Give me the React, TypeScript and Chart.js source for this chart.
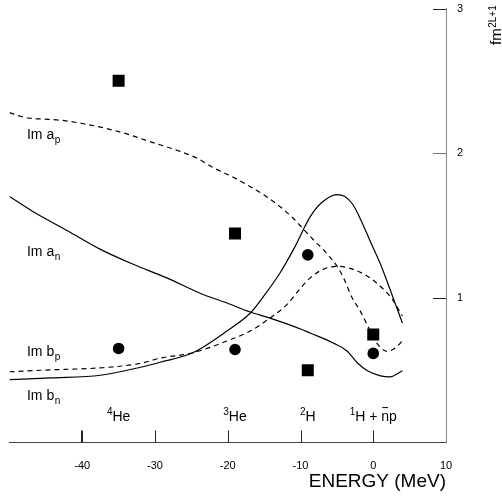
import React, { useEffect, useRef } from 'react';
import { Chart, registerables } from 'chart.js';

Chart.register(...registerables);

const FONT = '"Liberation Sans", Arial, Helvetica, sans-serif';

// Axis ticks
const xTickValues = [-50, -40, -30, -20, -10, 0, 10];
const xInnerTicks = [-40, -30, -20, -10, 0];
const yTickValues = [0, 1, 2, 3];
const yInnerTicks = [1, 2, 3];

// Im a_p (dashed)
const imApEnergy = [-50, -48.5, -47, -45, -42.5, -40, -37.5, -34, -30.7, -27, -24.2, -22, -19.5, -17.3, -15, -12.8, -11, -9.6, -8, -6.9, -5.0, -4.1, -2.9, -1.8, -0.4, 0.6, 1.9, 3.3, 4.1];
const imApValue = [2.28, 2.255, 2.24, 2.235, 2.225, 2.205, 2.18, 2.135, 2.08, 2.02, 1.965, 1.9, 1.84, 1.78, 1.71, 1.63, 1.55, 1.475, 1.39, 1.335, 1.22, 1.14, 1.0, 0.91, 0.77, 0.68, 0.63, 0.665, 0.71];

// Im a_n (solid)
const imAnEnergy = [-50, -46.8, -42.1, -37.5, -33, -28.3, -23.8, -20.1, -16.9, -14.2, -10, -8.7, -5.5, -3.6, -2.2, -0.8, 1.0, 2.3, 4.0];
const imAnValue = [1.70, 1.597, 1.466, 1.335, 1.232, 1.136, 1.032, 0.964, 0.902, 0.86, 0.785, 0.757, 0.688, 0.633, 0.551, 0.496, 0.461, 0.454, 0.496];

// Im b_p (dashed)
const imBpEnergy = [-50, -44.4, -37.5, -32, -29.3, -24.8, -20.1, -16.9, -14.2, -11.8, -10.0, -8.7, -6.9, -5.0, -3.2, -0.8, 1.4, 2.6, 4.0];
const imBpValue = [0.489, 0.502, 0.516, 0.547, 0.583, 0.62, 0.702, 0.771, 0.86, 0.957, 1.067, 1.136, 1.197, 1.218, 1.204, 1.149, 1.06, 0.991, 0.874];

// Im b_n (solid)
const imBnEnergy = [-50, -44.4, -37.5, -32, -29.3, -24.8, -20.1, -16.9, -14.9, -12.8, -10.7, -8.7, -7.0, -5.0, -3.9, -2.8, -1.8, -0.4, 1.0, 2.8, 4.0];
const imBnValue = [0.434, 0.447, 0.465, 0.52, 0.555, 0.62, 0.771, 0.895, 1.022, 1.173, 1.359, 1.558, 1.662, 1.714, 1.70, 1.645, 1.549, 1.39, 1.232, 0.991, 0.826];

// Measured points
const squareEnergy = [-35, -19, -9, 0];
const squareValue = [2.5, 1.445, 0.5, 0.747];
const circleEnergy = [-35, -19, -9, 0];
const circleValue = [0.65, 0.643, 1.297, 0.616];

// Curve labels (text, subscript, anchor in data coords: energy, value of baseline)
const curveLabelText = ['Im a', 'Im a', 'Im b', 'Im b'];
const curveLabelSub = ['p', 'n', 'p', 'n'];
const curveLabelEnergy = [-47.6, -47.6, -47.6, -47.6];
const curveLabelValue = [2.10, 1.29, 0.595, 0.292];

// Nucleus labels
const nucleusSup = ['4', '3', '2', '1'];
const nucleusMain = ['He', 'He', 'H', 'H + np'];
const nucleusEnergy = [-35, -19, -9, 0];
const nucleusValue = 0.148;

const toXY = (xs: number[], ys: number[]) => xs.map((x, i) => ({ x, y: ys[i] }));

const overlayPlugin = {
  id: 'overlay',
  afterDraw(chart: any) {
    const { ctx, chartArea } = chart;
    const x = chart.scales.x;
    const y = chart.scales.y;
    ctx.save();
    // inner x ticks
    xInnerTicks.forEach((v) => {
      const w = v === -40 ? 2 : 1;
      const px = Math.round(x.getPixelForValue(v)) + (w === 1 ? 0.5 : 0);
      ctx.lineWidth = w;
      ctx.strokeStyle = '#222';
      ctx.beginPath();
      ctx.moveTo(px, chartArea.bottom);
      ctx.lineTo(px, chartArea.bottom - 12);
      ctx.stroke();
    });
    // inner y ticks
    yInnerTicks.forEach((v) => {
      const py = Math.round(y.getPixelForValue(v)) + 0.5;
      ctx.lineWidth = 1;
      ctx.strokeStyle = v === 2 ? '#777' : '#222';
      ctx.beginPath();
      ctx.moveTo(chartArea.right, py);
      ctx.lineTo(chartArea.right - 13, py);
      ctx.stroke();
    });

    ctx.fillStyle = '#000';
    ctx.textBaseline = 'alphabetic';
    ctx.textAlign = 'left';
    // curve labels
    curveLabelText.forEach((t, i) => {
      const px = x.getPixelForValue(curveLabelEnergy[i]);
      const py = y.getPixelForValue(curveLabelValue[i]);
      ctx.font = `14px ${FONT}`;
      ctx.fillText(t, px, py);
      const w = ctx.measureText(t).width;
      ctx.font = `10px ${FONT}`;
      ctx.fillText(curveLabelSub[i], px + w + 0.5, py + 4);
    });

    // nucleus labels
    nucleusMain.forEach((t, i) => {
      const cx = x.getPixelForValue(nucleusEnergy[i]);
      const py = y.getPixelForValue(nucleusValue);
      ctx.font = `10px ${FONT}`;
      const sw = ctx.measureText(nucleusSup[i]).width;
      ctx.font = `14px ${FONT}`;
      const mw = ctx.measureText(t).width;
      const start = cx - (sw + mw) / 2;
      ctx.font = `10px ${FONT}`;
      ctx.fillText(nucleusSup[i], start, py - 6);
      ctx.font = `14px ${FONT}`;
      ctx.fillText(t, start + sw, py);
      const nIdx = t.indexOf('n');
      if (nIdx >= 0) {
        const pre = ctx.measureText(t.slice(0, nIdx)).width;
        const nw = ctx.measureText('n').width;
        ctx.lineWidth = 1;
        ctx.strokeStyle = '#000';
        ctx.beginPath();
        ctx.moveTo(start + sw + pre + 1, py - 13.5);
        ctx.lineTo(start + sw + pre + nw - 1, py - 13.5);
        ctx.stroke();
      }
    });

    // y-axis unit title, rotated
    ctx.translate(501, 45);
    ctx.rotate(-Math.PI / 2);
    ctx.font = `15px ${FONT}`;
    ctx.fillText('fm', 0, 0);
    const fw = ctx.measureText('fm').width;
    ctx.font = `10px ${FONT}`;
    ctx.fillText('2L+1', fw + 0.5, -5.5);
    ctx.restore();
  },
};

export default function App() {
  const ref = useRef<HTMLCanvasElement | null>(null);
  useEffect(() => {
    if (!ref.current) return;
    const lineBase = {
      showLine: true,
      pointRadius: 0,
      borderColor: '#000',
      borderWidth: 1.2,
      fill: false,
      cubicInterpolationMode: 'monotone' as const,
      order: 2,
    };
    const chart = new Chart(ref.current, {
      type: 'scatter',
      data: {
        datasets: [
          {
            label: 'squares',
            data: toXY(squareEnergy, squareValue),
            pointStyle: 'rect',
            pointRadius: 8.5,
            backgroundColor: '#000',
            borderWidth: 0,
            order: 0,
          },
          {
            label: 'circles',
            data: toXY(circleEnergy, circleValue),
            pointStyle: 'circle',
            pointRadius: 5.8,
            backgroundColor: '#000',
            borderWidth: 0,
            order: 0,
          },
          { ...lineBase, label: 'Im a_p', data: toXY(imApEnergy, imApValue), borderDash: [5, 4] },
          { ...lineBase, label: 'Im a_n', data: toXY(imAnEnergy, imAnValue) },
          { ...lineBase, label: 'Im b_p', data: toXY(imBpEnergy, imBpValue), borderDash: [5, 4] },
          { ...lineBase, label: 'Im b_n', data: toXY(imBnEnergy, imBnValue) },
        ],
      },
      options: {
        animation: false,
        responsive: false,
        layout: { padding: { left: 9.5, top: 6, right: 0, bottom: 0 } },
        plugins: { legend: { display: false }, tooltip: { enabled: false } },
        scales: {
          x: {
            type: 'linear',
            position: 'bottom',
            min: -50,
            max: 10,
            afterBuildTicks: (scale: any) => {
              scale.ticks = xTickValues.map((v) => ({ value: v }));
            },
            ticks: {
              autoSkip: false,
              maxRotation: 0,
              padding: 17,
              color: '#000',
              font: { family: FONT, size: 11 },
              callback: (v: any) => (v === -50 ? '' : String(v)),
            },
            grid: { display: false, drawTicks: false, tickLength: 0 },
            border: { display: true, color: '#444', width: 1 },
            title: {
              display: true,
              text: 'ENERGY (MeV)',
              align: 'end',
              color: '#000',
              font: { family: FONT, size: 19 },
              padding: { top: 0, bottom: 2.5 },
            },
            afterFit: (scale: any) => {
              scale.height = 53.5;
              scale.paddingLeft = 0;
              scale.paddingRight = 0;
            },
          },
          y: {
            type: 'linear',
            position: 'right',
            min: 0,
            max: 3,
            afterBuildTicks: (scale: any) => {
              scale.ticks = yTickValues.map((v) => ({ value: v }));
            },
            ticks: {
              padding: 11,
              color: '#000',
              font: { family: FONT, size: 11 },
              callback: (v: any) => (v === 0 ? '' : String(v)),
            },
            grid: { display: false, drawTicks: false, tickLength: 0 },
            border: { display: true, color: '#888', width: 1 },
            afterFit: (scale: any) => {
              scale.width = 56;
              scale.paddingTop = 0;
              scale.paddingBottom = 0;
            },
          },
        },
      },
      plugins: [overlayPlugin],
    } as any);
    return () => chart.destroy();
  }, []);
  return (
    <div style={{ position: 'fixed', left: 0, top: 0, width: 502, height: 496, background: '#fff' }}>
      <canvas ref={ref} width={502} height={496} style={{ display: 'block' }} />
    </div>
  );
}
